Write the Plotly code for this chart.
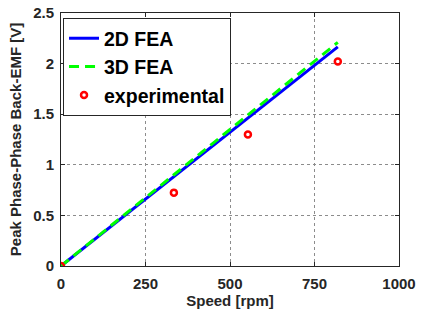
import plotly.graph_objects as go

speed_fea = [0, 334, 553, 819]
emf_2d = [0, 0.88, 1.46, 2.165]
emf_3d = [0, 0.90, 1.49, 2.21]
speed_exp = [0, 334, 553, 819]
emf_exp = [0, 0.725, 1.30, 2.02]

x_ticks = [0, 250, 500, 750, 1000]
y_ticks = [0, 0.5, 1, 1.5, 2, 2.5]
y_labels = ["0", "0.5", "1", "1.5", "2", "2.5"]

FAM = "Liberation Sans, Arial, sans-serif"
font = dict(family=FAM, color="#262626", weight="bold")

fig = go.Figure()
fig.add_trace(go.Scatter(x=speed_fea, y=emf_2d, mode="lines", name="2D FEA",
                         line=dict(color="#0000ff", width=3)))
fig.add_trace(go.Scatter(x=speed_fea, y=emf_3d, mode="lines", name="3D FEA",
                         line=dict(color="#00ff00", width=3, dash="10px,6px")))
fig.add_trace(go.Scatter(x=speed_exp, y=emf_exp, mode="markers", name="experimental",
                         marker=dict(symbol="circle-open", color="#ff0000", size=6,
                                     line=dict(width=2.5, color="#ff0000"))))

axis_common = dict(showline=True, linecolor="#262626", linewidth=1, mirror="ticks",
                   ticks="inside", ticklen=4, tickcolor="#262626",
                   showgrid=True, gridcolor="#8c8c8c", griddash="dot", gridwidth=1,
                   zeroline=False, automargin=False, ticklabeloverflow="allow",
                   tickfont=dict(size=15, **font))

fig.update_layout(
    width=422, height=318,
    margin=dict(l=61, r=23, t=13, b=52, autoexpand=False),
    paper_bgcolor="white", plot_bgcolor="white",
    font=font,
    showlegend=True,
    legend=dict(x=0.006, y=0.98, xanchor="left", yanchor="top",
                bgcolor="white", bordercolor="#262626", borderwidth=1,
                font=dict(size=19.5, family=FAM, color="black", weight="bold"),
                tracegroupgap=0),
    xaxis=dict(range=[0, 1000], tickvals=x_ticks, ticklabelstandoff=4,
               title=dict(text="Speed [rpm]", font=dict(size=15, **font), standoff=3),
               **axis_common),
    yaxis=dict(range=[0, 2.5], tickvals=y_ticks, ticktext=y_labels, ticklabelstandoff=3,
               title=dict(text="Peak Phase-Phase Back-EMF [V]", font=dict(size=15, **font), standoff=7),
               **axis_common),
)

fig.write_html("out.html", config={"displayModeBar": False},
               post_script="document.body.style.margin='0';document.body.style.overflow='hidden';")
